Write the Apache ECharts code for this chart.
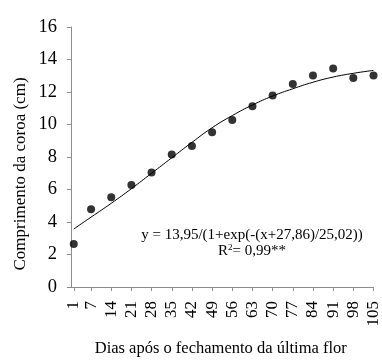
<!DOCTYPE html>
<html>
<head>
<meta charset="utf-8">
<script src="https://cdn.jsdelivr.net/npm/echarts@6/dist/echarts.min.js"></script>
<style>
  html, body { margin: 0; padding: 0; background: #fff; }
  #chart { width: 382px; height: 362px; }
</style>
</head>
<body>
<div id="chart"></div>
<script>
// days after the last flower closed
const days = [1, 7, 14, 21, 28, 35, 42, 49, 56, 63, 70, 77, 84, 91, 98, 105];
// observed crown length (cm)
const observed = [2.64, 4.78, 5.52, 6.28, 7.05, 8.15, 8.68, 9.52, 10.28, 11.13, 11.78, 12.49, 13.02, 13.44, 12.86, 13.02];
// fitted curve at each day
const fitted = [3.57, 4.3, 5.15, 6.05, 7.0, 7.95, 8.9, 9.8, 10.55, 11.2, 11.75, 12.2, 12.6, 12.92, 13.15, 13.33];
const yTicks = [0, 2, 4, 6, 8, 10, 12, 14, 16];

const font = '"Liberation Serif", "Times New Roman", serif';
const axisGray = '#8c8c8c';

const chart = echarts.init(document.getElementById('chart'), null, { renderer: 'canvas' });

const option = {
  animation: false,
  backgroundColor: '#ffffff',
  grid: { left: 68, right: 6, top: 27, bottom: 73 },
  xAxis: {
    type: 'value',
    min: -1,
    max: 105,
    axisLine: { show: true, lineStyle: { color: axisGray, width: 1 } },
    axisTick: { show: true, inside: false, length: 4, customValues: days, lineStyle: { color: axisGray } },
    axisLabel: {
      customValues: days,
      rotate: 90,
      margin: 14,
      hideOverlap: false,
      showMinLabel: true,
      showMaxLabel: true,
      color: '#000',
      fontFamily: font,
      fontSize: 17
    },
    splitLine: { show: false },
    name: 'Dias após o fechamento da última flor',
    nameLocation: 'middle',
    nameGap: 53,
    nameTextStyle: { color: '#000', fontFamily: font, fontSize: 16.5 }
  },
  yAxis: {
    type: 'value',
    min: yTicks[0],
    max: yTicks[yTicks.length - 1],
    interval: 2,
    axisLine: { show: true, lineStyle: { color: axisGray, width: 1 } },
    axisTick: { show: true, inside: false, length: 4, lineStyle: { color: axisGray } },
    axisLabel: { margin: 11, color: '#000', fontFamily: font, fontSize: 18.5 },
    splitLine: { show: false }
  },
  graphic: [
    {
      type: 'text',
      x: 21,
      y: 174,
      rotation: Math.PI / 2,
      style: {
        text: 'Comprimento da coroa (cm)',
        fill: '#000',
        font: '17px ' + font,
        align: 'center',
        verticalAlign: 'middle'
      }
    },
    {
      type: 'text',
      x: 252,
      y: 235,
      style: {
        text: 'y = 13,95/(1+exp(-(x+27,86)/25,02))',
        fill: '#000',
        font: '15px ' + font,
        align: 'center',
        verticalAlign: 'middle'
      }
    },
    {
      type: 'text',
      x: 252,
      y: 251,
      style: {
        rich: {
          n: { fontSize: 15, fontFamily: font, fill: '#000' },
          sup: { fontSize: 9, fontFamily: font, fill: '#000', verticalAlign: 'top', padding: [0, 0, 6, 0] }
        },
        text: '{n|R}{sup|2}{n|= 0,99**}',
        align: 'center',
        verticalAlign: 'middle'
      }
    }
  ],
  series: [
    {
      name: 'Ajuste',
      type: 'line',
      data: days.map((d, i) => [d, fitted[i]]),
      smooth: true,
      showSymbol: false,
      lineStyle: { color: '#000', width: 1 },
      z: 2
    },
    {
      name: 'Observado',
      type: 'scatter',
      data: days.map((d, i) => [d, observed[i]]),
      symbol: 'circle',
      symbolSize: 8,
      itemStyle: { color: '#000' },
      z: 3
    }
  ]
};

chart.setOption(option);
</script>
</body>
</html>
